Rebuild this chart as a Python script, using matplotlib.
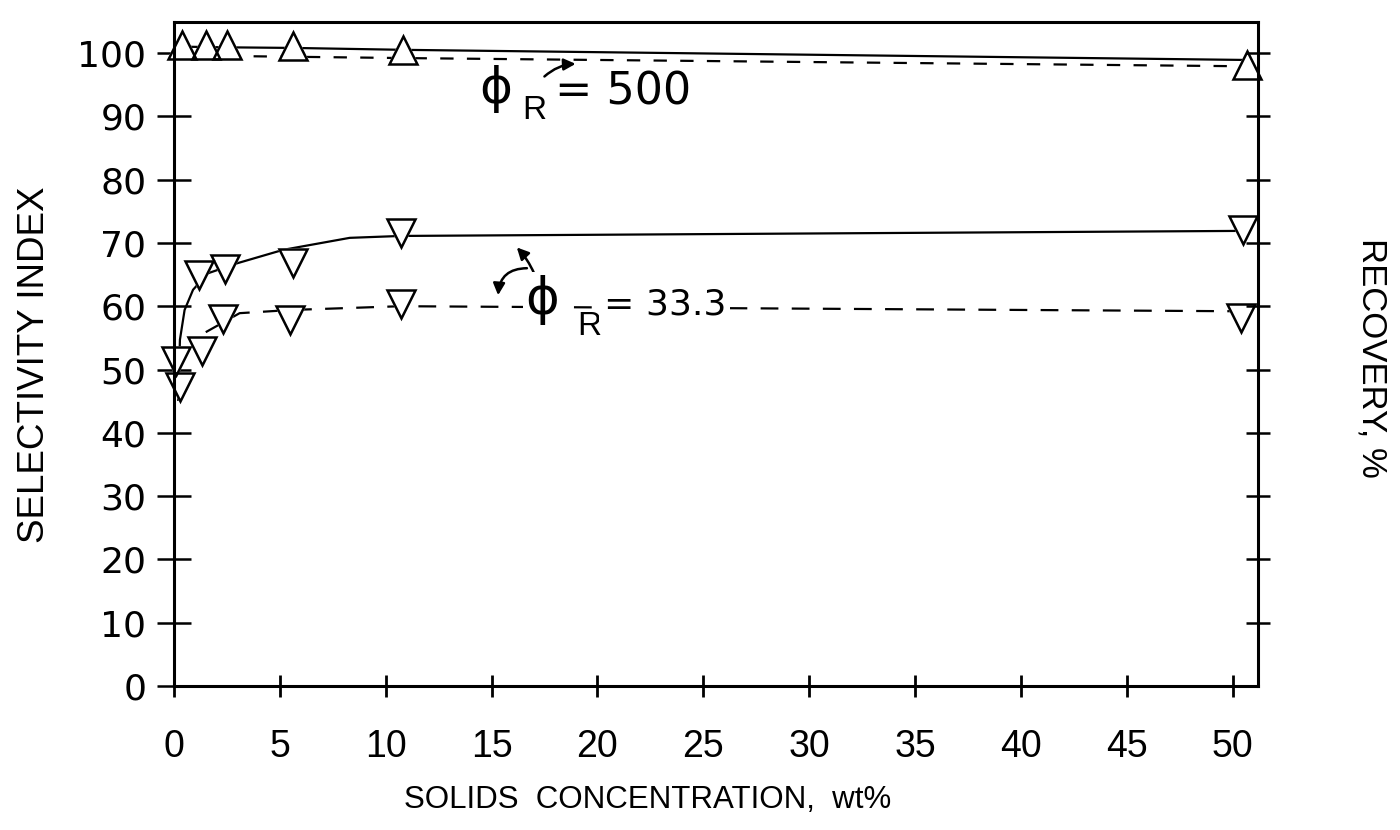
import matplotlib
matplotlib.use("Agg")
import matplotlib.pyplot as plt
from matplotlib.patches import FancyArrowPatch

# ---------------- data ----------------
# phi_R = 500 : open up-triangles
x_up500 = [0.4, 1.5, 2.5, 5.6, 10.8, 50.7]
y_up500 = [101.2, 101.2, 101.2, 101.1, 100.4, 98.1]
# phi_R = 500 curves (solid / dashed)
solid500_x = [0.4, 2.5, 5.7, 10.9, 50.7]
solid500_y = [101.0, 100.9, 100.8, 100.5, 98.9]
dash500_x = [2.5, 3.3, 10.9, 50.7]
dash500_y = [99.6, 99.5, 99.2, 97.9]

# phi_R = 33.3 : open down-triangles (solid-line set)
x_sel333 = [0.3, 1.2, 2.4, 5.6, 10.7, 50.5]
y_sel333 = [47.2, 64.9, 65.9, 66.8, 71.5, 72.0]
# phi_R = 33.3 : open down-triangles (dashed-line set)
x_rec333 = [0.1, 1.3, 2.3, 5.5, 10.7, 50.4]
y_rec333 = [51.3, 52.9, 58.0, 57.8, 60.4, 58.1]
# phi_R = 33.3 curves
solid333_x = [0.2, 0.28, 0.5, 0.9, 1.6, 3.0, 5.15, 8.3, 10.7, 50.5]
solid333_y = [45.2, 54.7, 59.4, 62.6, 65.2, 66.8, 68.9, 70.8, 71.1, 71.9]
dash333_x = [1.5, 3.1, 5.5, 10.7, 50.4]
dash333_y = [55.9, 58.9, 59.4, 60.0, 59.2]

x_ticks = [0, 5, 10, 15, 20, 25, 30, 35, 40, 45, 50]
y_ticks = [0, 10, 20, 30, 40, 50, 60, 70, 80, 90, 100]
right_ticks = [10, 20, 30, 40, 50, 60, 70, 80, 90, 100]

# ---------------- figure ----------------
fig = plt.figure(figsize=(14, 8.3), dpi=100)
ax = fig.add_axes([174 / 1400, 1 - 686 / 830, (1258 - 174) / 1400, (686 - 22) / 830])
ax.set_xlim(0, 51.2)
ax.set_ylim(0, 104.9)

for s in ax.spines.values():
    s.set_linewidth(2.2)
    s.set_zorder(2.5)

lw = 1.6
ax.plot(solid500_x, solid500_y, color="black", lw=lw, zorder=2)
ax.plot(dash500_x, dash500_y, color="black", lw=lw, dashes=(6, 6), zorder=2)
ax.plot(solid333_x, solid333_y, color="black", lw=lw, zorder=2)
ax.plot(dash333_x, dash333_y, color="black", lw=lw, dashes=(8, 6), zorder=2)

mk = dict(ms=20, mew=1.8, linestyle="none", clip_on=False)
# white fill to mask lines, then outlines on top
for xs, ys, m in [(x_up500, y_up500, "^"), (x_sel333, y_sel333, "v"), (x_rec333, y_rec333, "v")]:
    ax.plot(xs, ys, marker=m, mfc="white", mec="white", zorder=2.1, **mk)
for xs, ys, m in [(x_up500, y_up500, "^"), (x_sel333, y_sel333, "v"), (x_rec333, y_rec333, "v")]:
    ax.plot(xs, ys, marker=m, mfc="none", mec="black", zorder=2.2, **mk)

# ticks
ax.set_xticks(x_ticks)
ax.set_xticklabels([str(v) for v in x_ticks], family="Liberation Sans", fontsize=27)
ax.set_yticks(y_ticks)
ax.set_yticklabels([str(v) for v in y_ticks], family="DejaVu Sans", fontsize=26)
ax.tick_params(axis="x", direction="inout", length=16, width=2.0, pad=23)
ax.tick_params(axis="y", direction="inout", length=24, width=1.8, pad=8)

axr = ax.twinx()
axr.set_ylim(ax.get_ylim())
axr.set_yticks(right_ticks)
axr.set_yticklabels([])
axr.tick_params(axis="y", direction="inout", length=17, width=1.8)
for s in axr.spines.values():
    s.set_visible(False)

# axis titles
fig.text(35 / 1400, 1 - 365 / 830, "SELECTIVITY INDEX", rotation=90, ha="center", va="center",
         family="Liberation Sans", fontsize=26.5)
fig.text(648 / 1400, 1 - 800 / 830, "SOLIDS  CONCENTRATION,  wt%", ha="center", va="center",
         family="Liberation Sans", fontsize=22.5)
fig.text(1372 / 1400, 1 - 358 / 830, "RECOVERY, %", rotation=-90, ha="center", va="center",
         family="Liberation Sans", fontsize=25)

# annotations phi_R = 500
ax.text(15.2, 94.3, "ϕ", fontsize=36, ha="center", va="center", family="DejaVu Sans")
ax.text(17.0, 90.9, "R", fontsize=24, ha="center", va="center", family="Liberation Sans")
ax.text(18.0, 93.9, "= 500", fontsize=32, ha="left", va="center", family="DejaVu Sans")
ax.add_patch(FancyArrowPatch((17.4, 96.0), (19.1, 98.3), connectionstyle="arc3,rad=-0.2",
                             arrowstyle="-|>,head_length=7,head_width=3.5", lw=1.8, color="black"))

# annotations phi_R = 33.3
ax.text(17.4, 61.0, "ϕ", fontsize=37, ha="center", va="center", family="DejaVu Sans",
        bbox=dict(boxstyle="square,pad=0.05", fc="white", ec="none"))
ax.text(19.6, 56.8, "R", fontsize=24, ha="center", va="center", family="Liberation Sans")
ax.text(20.3, 60.2, "= 33.3", fontsize=26, ha="left", va="center", family="DejaVu Sans",
        bbox=dict(boxstyle="square,pad=0.12", fc="white", ec="none"))
ax.add_patch(FancyArrowPatch((17.06, 64.8), (16.1, 69.6), connectionstyle="arc3,rad=0.1",
                             arrowstyle="-|>,head_length=7,head_width=3.5", lw=1.8, color="black"))
ax.add_patch(FancyArrowPatch((16.8, 66.0), (15.3, 61.3), connectionstyle="arc3,rad=0.5",
                             arrowstyle="-|>,head_length=7,head_width=3.5", lw=1.8, color="black"))

fig.savefig("out.png", dpi=100)
